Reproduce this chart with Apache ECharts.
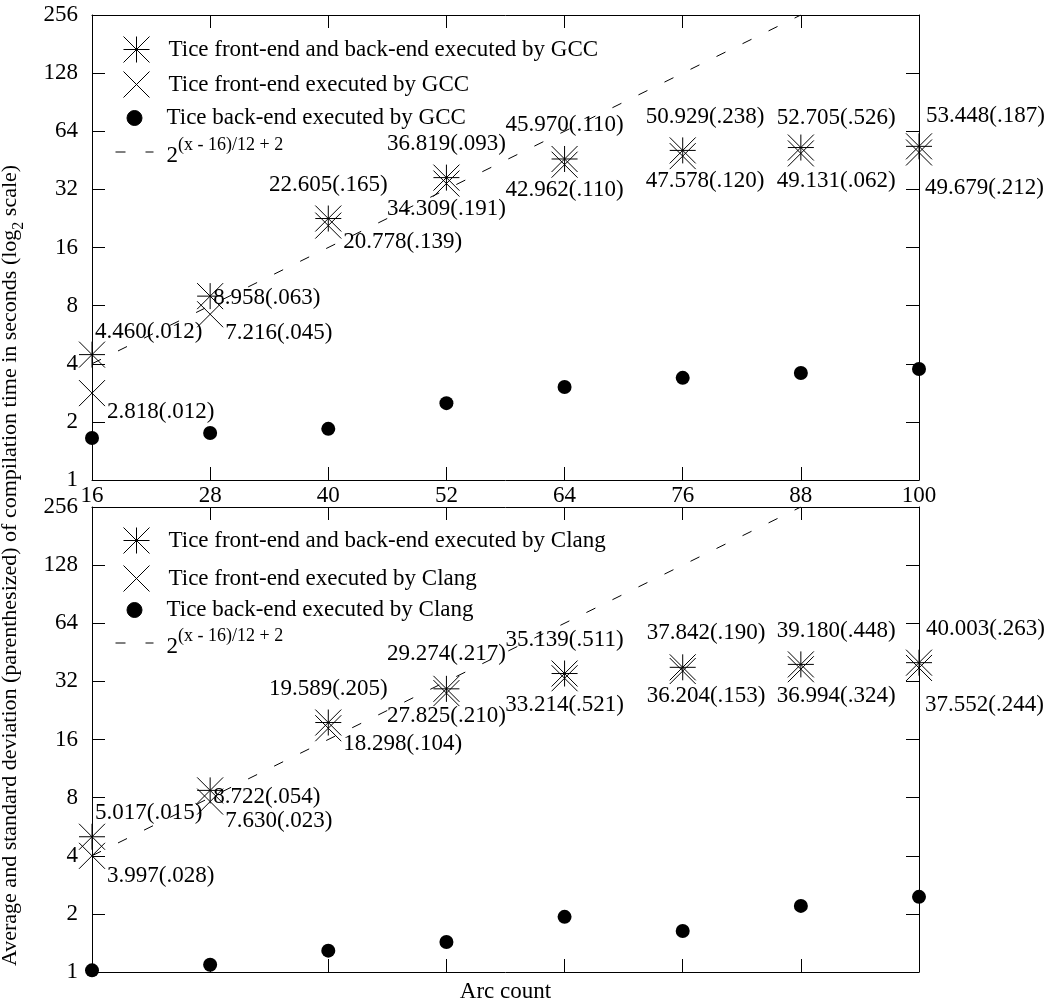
<!DOCTYPE html>
<html>
<head>
<meta charset="utf-8">
<script src="https://cdn.jsdelivr.net/npm/echarts@6/dist/echarts.min.js"></script>
<style>
html, body { margin: 0; padding: 0; background: #fff; }
#chart { width: 1049px; height: 1003px; }
</style>
</head>
<body>
<div id="chart"></div>
<script>
const arcCounts = [16, 28, 40, 52, 64, 76, 88, 100]

const gccBoth = [4.460, 8.958, 22.605, 36.819, 45.970, 50.929, 52.705, 53.448]
const gccBothSd = [0.012, 0.063, 0.165, 0.093, 0.110, 0.238, 0.526, 0.187]
const gccFront = [2.818, 7.216, 20.778, 34.309, 42.962, 47.578, 49.131, 49.679]
const gccFrontSd = [0.012, 0.045, 0.139, 0.191, 0.110, 0.120, 0.062, 0.212]
const gccBack = [1.65, 1.75, 1.84, 2.5, 3.03, 3.38, 3.58, 3.76]

const clangBoth = [5.017, 8.722, 19.589, 29.274, 35.139, 37.842, 39.180, 40.003]
const clangBothSd = [0.015, 0.054, 0.205, 0.217, 0.511, 0.190, 0.448, 0.263]
const clangFront = [3.997, 7.630, 18.298, 27.825, 33.214, 36.204, 36.994, 37.552]
const clangFrontSd = [0.028, 0.023, 0.104, 0.210, 0.521, 0.153, 0.324, 0.244]
const clangBack = [1.02, 1.09, 1.29, 1.43, 1.93, 1.63, 2.2, 2.45]

// reference curve 2^((x-16)/12+2), endpoints where it is visible
const fitX = [16, 88]
const fitY = [4, 256]

// label placement per point: [align, dx, dy]
const gccBothPos = [['left', 3, -23], ['left', 3, 2], ['center', 0, -34], ['center', 0, -34], ['center', 0, -34], ['left', -37, -33], ['left', -24, -30], ['left', 7, -30]]
const gccFrontPos = [['left', 15, 19], ['left', 15, 19], ['left', 15, 16], ['center', 0, 25], ['center', 0, 25], ['left', -37, 25], ['left', -24, 28], ['left', 6, 35]]
const clangBothPos = [['left', 3, -24], ['left', 3, 7], ['center', 0, -34], ['center', 0, -35], ['center', 0, -34], ['left', -36, -34], ['left', -24, -33], ['left', 7, -34]]
const clangFrontPos = [['left', 15, 20], ['left', 15, 19], ['left', 15, 16], ['center', 0, 23], ['center', 0, 27], ['left', -36, 25], ['left', -24, 27], ['left', 6, 37]]

const FONT = 'Liberation Serif'
const STAR = 'path://M0,0L20,20M20,0L0,20M10,0L10,20M0,10L20,10'
const CROSS = 'path://M0,0L20,20M20,0L0,20'
const FIT_NAME = 'fit'

function fmt(v, sd) {
  return v.toFixed(3) + '(' + sd.toFixed(3).slice(1) + ')'
}

function markSeries(name, gi, values, sds, pos, symbol, size) {
  return {
    name,
    type: 'scatter',
    xAxisIndex: gi * 2,
    yAxisIndex: gi * 2,
    symbol,
    symbolSize: size,
    silent: true,
    itemStyle: symbol === 'circle'
      ? { color: '#000', opacity: 1 }
      : { color: 'none', borderColor: '#000', borderWidth: 1, opacity: 1 },
    label: { fontFamily: FONT, fontSize: 23, color: '#000', opacity: 1 },
    data: arcCounts.map((x, i) => {
      const item = { value: [x, values[i]] }
      if (sds) {
        item.label = {
          show: true,
          position: 'inside',
          align: pos[i][0],
          verticalAlign: 'middle',
          offset: [pos[i][1], pos[i][2]],
          formatter: fmt(values[i], sds[i]),
        }
      }
      return item
    }),
  }
}

function fitSeries(gi) {
  return {
    name: FIT_NAME,
    type: 'line',
    xAxisIndex: gi * 2,
    yAxisIndex: gi * 2,
    symbol: 'none',
    silent: true,
    itemStyle: { color: '#000' },
    lineStyle: { color: '#000', width: 1, type: [10, 19] },
    data: fitX.map((x, i) => [x, fitY[i]]),
  }
}

const axisLine = { show: true, onZero: false, lineStyle: { color: '#000', width: 1 } }
const axisTick = { show: true, inside: true, length: 13, lineStyle: { color: '#000', width: 1 } }
const labelStyle = { fontFamily: FONT, fontSize: 23, color: '#000' }

function xAxes(gi, showLabels) {
  const base = { type: 'value', gridIndex: gi, min: 16, max: 100, interval: 12, splitLine: { show: false }, axisLine, axisTick }
  const bottom = Object.assign({}, base, {
    position: 'bottom',
    axisLabel: Object.assign({ show: showLabels, margin: 4 }, labelStyle),
  })
  if (!showLabels) {
    Object.assign(bottom, {
      name: 'Arc count',
      nameLocation: 'middle',
      nameGap: 8,
      nameTextStyle: labelStyle,
    })
  }
  const top = Object.assign({}, base, { position: 'top', axisLabel: { show: false } })
  return [bottom, top]
}

function yAxes(gi) {
  const base = { type: 'log', logBase: 2, gridIndex: gi, min: 1, max: 256, splitNumber: 8, splitLine: { show: false }, minorTick: { show: false }, axisLine, axisTick }
  return [
    Object.assign({}, base, { position: 'left', axisLabel: Object.assign({ margin: 14 }, labelStyle) }),
    Object.assign({}, base, { position: 'right', axisLabel: { show: false } }),
  ]
}

const legends = []
function addLegend(name, centerY, w, h) {
  const isFit = name === FIT_NAME
  const left = isFit ? 115 : 134 - w / 2
  const boxH = isFit ? 32 : Math.max(h, 23)
  legends.push({
    data: [name],
    left,
    top: centerY - boxH / 2,
    itemWidth: w,
    itemHeight: h,
    padding: 0,
    selectedMode: false,
    itemStyle: isFit ? { opacity: 0 } : { borderColor: '#000', borderWidth: 1, opacity: 1 },
    lineStyle: isFit ? { color: '#000', width: 1, type: [10, 20], opacity: 1 } : undefined,
    formatter: isFit ? () => '{b|2}{sup|(x - 16)/12 + 2}' : undefined,
    textStyle: {
      fontFamily: FONT,
      fontSize: 23,
      color: '#000',
      padding: [0, 0, 0, 166 - (left + w + 5)],
      rich: {
        b: { fontFamily: FONT, fontSize: 23, color: '#000', lineHeight: 23, padding: [8, 0, 0, 0] },
        sup: { fontFamily: FONT, fontSize: 18, color: '#000', lineHeight: 18, padding: [0, 0, 14, 0] },
      },
    },
  })
}

const gccNames = [
  'Tice front-end and back-end executed by GCC',
  'Tice front-end executed by GCC',
  'Tice back-end executed by GCC',
]
const clangNames = [
  'Tice front-end and back-end executed by Clang',
  'Tice front-end executed by Clang',
  'Tice back-end executed by Clang',
]

addLegend(gccNames[0], 47, 26, 26)
addLegend(gccNames[1], 82, 26, 26)
addLegend(gccNames[2], 118, 15, 15)
addLegend(FIT_NAME, 152, 38, 14)
addLegend(clangNames[0], 538, 26, 26)
addLegend(clangNames[1], 576, 26, 26)
addLegend(clangNames[2], 610, 15, 15)
addLegend(FIT_NAME, 643, 38, 14)

const chart = echarts.init(document.getElementById('chart'), null, { renderer: 'canvas' })

chart.setOption({
  animation: false,
  backgroundColor: '#fff',
  grid: [
    { left: 92, top: 15, width: 827, height: 465, outerBoundsMode: 'none' },
    { left: 92, top: 507, width: 827, height: 465, outerBoundsMode: 'none' },
  ],
  xAxis: [...xAxes(0, true), ...xAxes(1, false)],
  yAxis: [...yAxes(0), ...yAxes(1)],
  legend: legends,
  graphic: [{
    type: 'text',
    x: 13,
    y: 966,
    rotation: Math.PI / 2,
    style: {
      text: '{n|Average and standard deviation (parenthesized) of compilation time in seconds (log}{s|2}{n| scale)}',
      align: 'left',
      verticalAlign: 'middle',
      rich: {
        n: { fontFamily: FONT, fontSize: 22, fill: '#000', lineHeight: 22, padding: [0, 0, 6, 0] },
        s: { fontFamily: FONT, fontSize: 16, fill: '#000', lineHeight: 16, padding: [11, 0, 0, 0] },
      },
    },
  }],
  series: [
    markSeries(gccNames[0], 0, gccBoth, gccBothSd, gccBothPos, STAR, 26),
    markSeries(gccNames[1], 0, gccFront, gccFrontSd, gccFrontPos, CROSS, 26),
    markSeries(gccNames[2], 0, gccBack, null, null, 'circle', 14),
    fitSeries(0),
    markSeries(clangNames[0], 1, clangBoth, clangBothSd, clangBothPos, STAR, 26),
    markSeries(clangNames[1], 1, clangFront, clangFrontSd, clangFrontPos, CROSS, 26),
    markSeries(clangNames[2], 1, clangBack, null, null, 'circle', 14),
    fitSeries(1),
  ],
})
</script>
</body>
</html>
